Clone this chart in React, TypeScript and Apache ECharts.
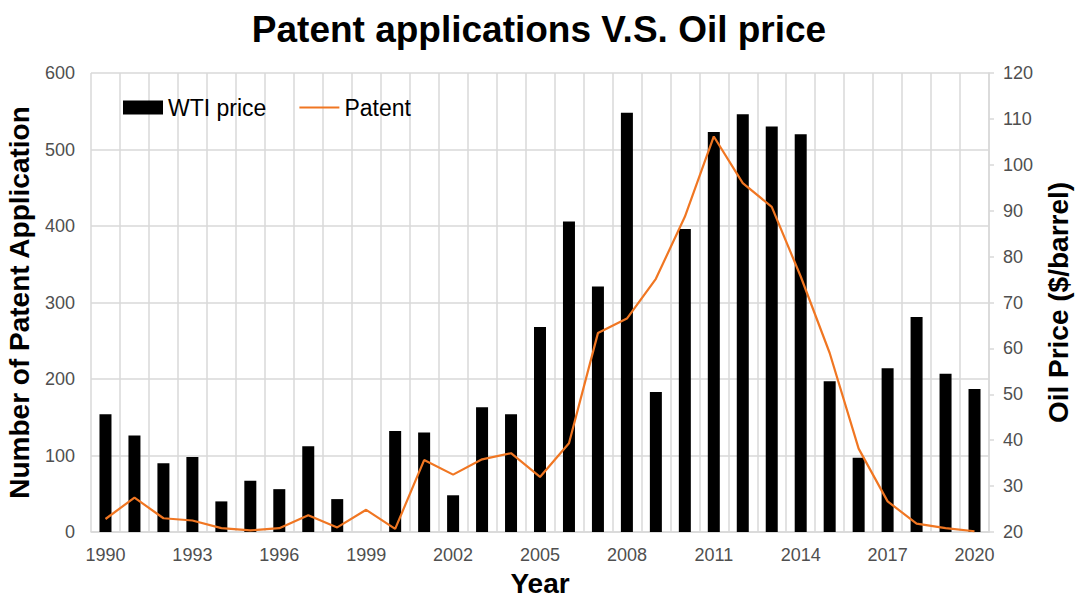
import React, { useEffect, useRef } from "react";
import * as echarts from "echarts";

const years = [
  "1990", "1991", "1992", "1993", "1994", "1995", "1996", "1997", "1998", "1999",
  "2000", "2001", "2002", "2003", "2004", "2005", "2006", "2007", "2008", "2009",
  "2010", "2011", "2012", "2013", "2014", "2015", "2016", "2017", "2018", "2019", "2020",
];

// bar heights, read against the left axis
const wtiPrice = [
  154, 126, 90, 98, 40, 67, 56, 112, 43, 0,
  132, 130, 48, 163, 154, 268, 406, 321, 548, 183,
  396, 523, 546, 530, 520, 197, 97, 214, 281, 207, 187,
];

// line values, read against the left axis
const patent = [
  17, 45, 18, 15, 5, 2, 5, 22, 6, 29,
  4, 94, 75, 95, 103, 72, 116, 260, 279, 331,
  412, 517, 456, 425, 334, 234, 109, 40, 11, 5, 1,
];

const leftTicks = { min: 0, max: 600, interval: 100 };
const rightTicks = { min: 20, max: 120, interval: 10 };

export default function App() {
  const ref = useRef<HTMLDivElement>(null);
  useEffect(() => {
    if (!ref.current) return;
    const chart = echarts.init(ref.current, null, { renderer: "svg" });
    const font = "Arial, 'Liberation Sans', sans-serif";
    const grey = "#4f4f4f";
    const gridColor = "#d9d9d9";
    const orange = "#f07622";
    chart.setOption({
      animation: false,
      backgroundColor: "#fff",
      textStyle: { fontFamily: font },
      title: {
        text: "Patent applications V.S. Oil price",
        left: "center",
        top: 6,
        textStyle: { fontSize: 37, fontWeight: "bold", color: "#000", fontFamily: font },
      },
      legend: {
        left: 118,
        top: 91,
        itemWidth: 40,
        itemHeight: 14,
        itemGap: 32,
        textStyle: { fontSize: 23, color: "#000", fontFamily: font },
        data: [
          { name: "WTI price", icon: "rect" },
          { name: "Patent", itemStyle: { opacity: 0 }, lineStyle: { color: orange, width: 2 } },
        ],
      },
      grid: { left: 91, right: 89, top: 73, bottom: 68, containLabel: false, outerBoundsMode: "none" },
      xAxis: {
        type: "category",
        data: years,
        boundaryGap: true,
        name: "Year",
        nameLocation: "middle",
        nameGap: 37,
        nameTextStyle: { fontSize: 28, fontWeight: "bold", color: "#000", fontFamily: font },
        axisLine: { show: true, lineStyle: { color: gridColor, width: 1.5 } },
        axisTick: { show: false, interval: 0 },
        axisLabel: { interval: 2, color: grey, fontSize: 18, margin: 14, fontFamily: font },
        splitLine: { show: true, interval: 0, lineStyle: { color: gridColor, width: 1.5 } },
      },
      yAxis: [
        {
          type: "value",
          ...leftTicks,
          name: "Number of Patent Application",
          nameLocation: "middle",
          nameGap: 58,
          nameRotate: 90,
          nameTextStyle: { fontSize: 28, fontWeight: "bold", color: "#000", fontFamily: font },
          axisLine: { show: false },
          axisTick: { show: false },
          axisLabel: { color: grey, fontSize: 18, margin: 16, fontFamily: font },
          splitLine: { show: true, lineStyle: { color: gridColor, width: 1.5 } },
        },
        {
          type: "value",
          position: "right",
          ...rightTicks,
          name: "Oil Price ($/barrel)",
          nameLocation: "middle",
          nameGap: 55,
          nameRotate: 90,
          nameTextStyle: { fontSize: 28, fontWeight: "bold", color: "#000", fontFamily: font },
          axisLine: { show: true, lineStyle: { color: gridColor, width: 1.5 } },
          axisTick: { show: true, length: 5, lineStyle: { color: gridColor, width: 1.5 } },
          axisLabel: { color: grey, fontSize: 18, margin: 14, fontFamily: font },
          splitLine: { show: false },
        },
      ],
      series: [
        {
          name: "WTI price",
          type: "bar",
          yAxisIndex: 0,
          data: wtiPrice,
          barWidth: 12,
          itemStyle: { color: "#000" },
        },
        {
          name: "Patent",
          type: "line",
          yAxisIndex: 0,
          data: patent,
          symbol: "none",
          lineStyle: { color: orange, width: 2.2 },
          itemStyle: { color: orange },
        },
      ],
    });
    return () => chart.dispose();
  }, []);
  return <div ref={ref} style={{ width: 1078, height: 600, position: "absolute", left: 0, top: 0 }} />;
}
